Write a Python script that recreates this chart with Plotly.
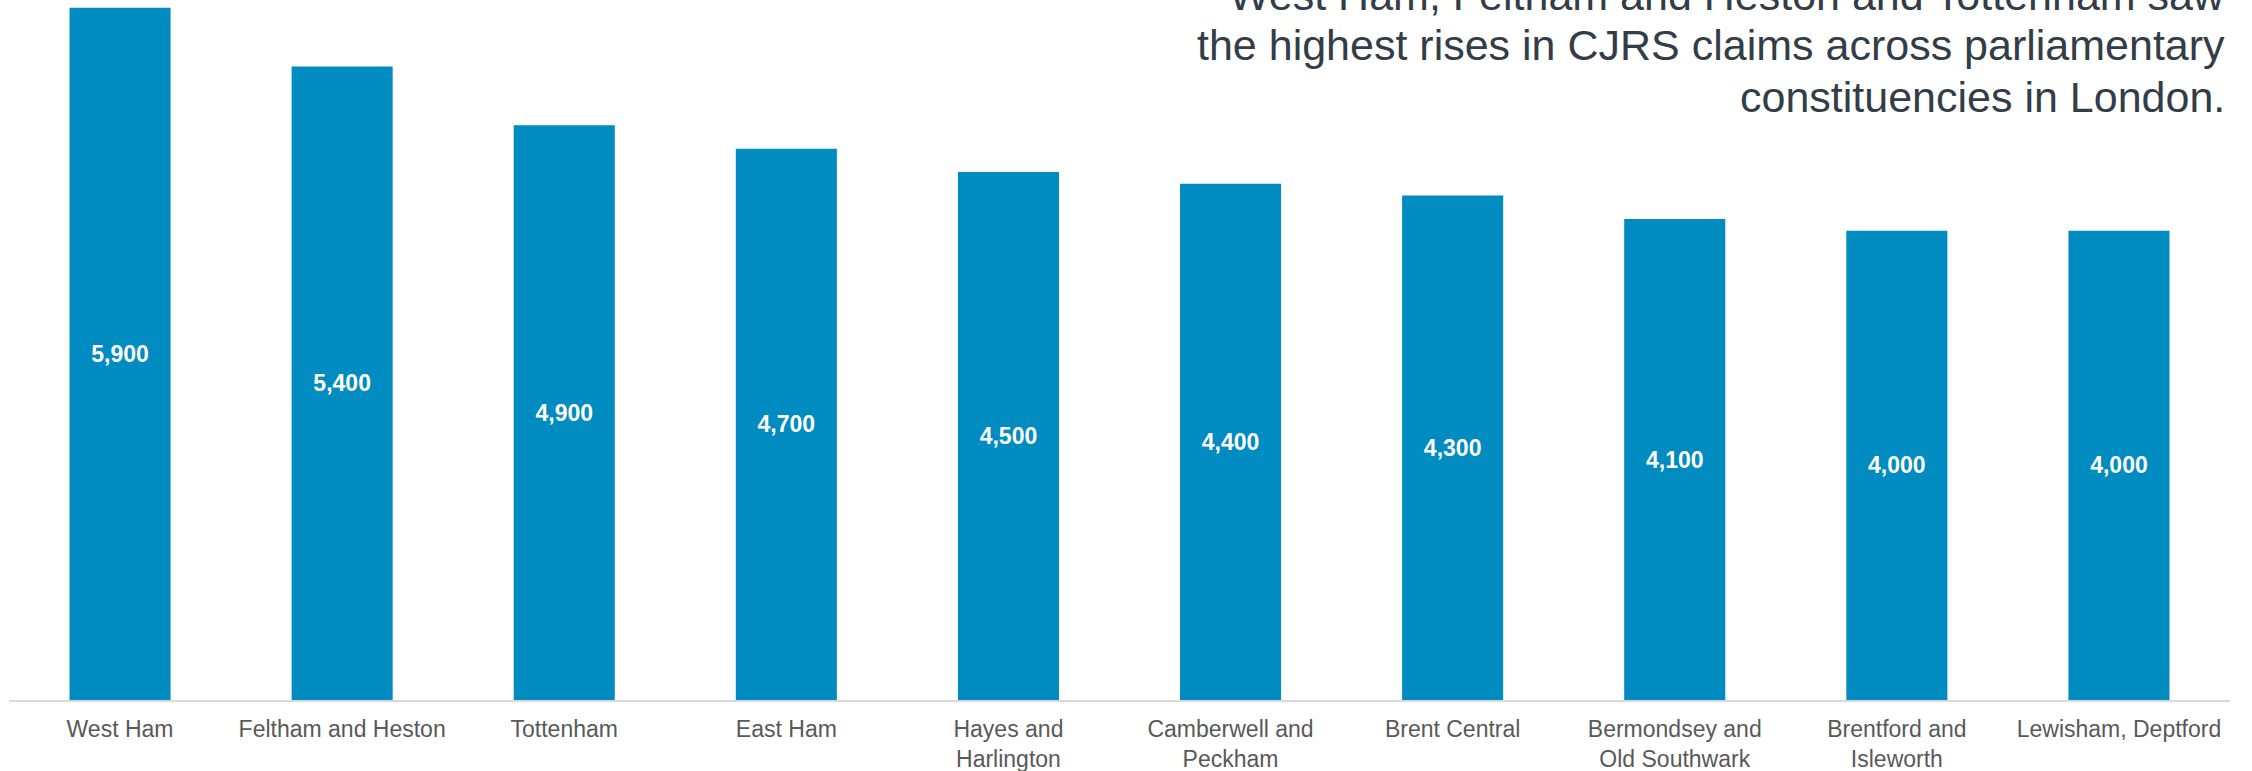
import plotly.graph_objects as go

categories = ["West Ham", "Feltham and Heston", "Tottenham", "East Ham",
              "Hayes and<br>Harlington", "Camberwell and<br>Peckham", "Brent Central",
              "Bermondsey and<br>Old Southwark", "Brentford and<br>Isleworth", "Lewisham, Deptford"]
claims_rise = [5900, 5400, 4900, 4700, 4500, 4400, 4300, 4100, 4000, 4000]
title_lines = ["West Ham, Feltham and Heston and Tottenham saw",
               "the highest rises in CJRS claims across parliamentary",
               "constituencies in London."]

FONT = "Liberation Sans, Arial, sans-serif"
PLOT_H = 700.0
title_bottoms_px = [21, 71, 123]

fig = go.Figure()
fig.add_trace(go.Bar(
    x=categories, y=claims_rise,
    marker=dict(color="#008BC1", line=dict(width=0)),
    texttemplate="%{y:,.0f}", textposition="inside", insidetextanchor="middle",
    textangle=0,
    textfont=dict(family=FONT, size=23, color="white", weight="bold"),
    hoverinfo="x+y",
))

annotations = []
for line, bottom in zip(title_lines, title_bottoms_px):
    annotations.append(dict(
        text=line, xref="paper", yref="paper",
        x=0.9986, y=1 - bottom / PLOT_H, xanchor="right", yanchor="bottom", align="right",
        showarrow=False, font=dict(family=FONT, size=43, color="#333D47"),
    ))

fig.update_layout(
    width=2252, height=771,
    margin=dict(l=9, r=22, t=0, b=71, autoexpand=False),
    paper_bgcolor="white", plot_bgcolor="white",
    bargap=0.545,
    showlegend=False,
    xaxis=dict(showline=True, linecolor="#D9D9D9", linewidth=2, showgrid=False,
               ticks="", tickfont=dict(family=FONT, size=23, color="#595959"),
               automargin=False, ticklabelstandoff=7, fixedrange=True),
    yaxis=dict(visible=False, range=[0, 5967], showgrid=False, zeroline=False,
               automargin=False, fixedrange=True),
    annotations=annotations,
)

fig.write_html(
    "out.html",
    config={"displayModeBar": False},
    post_script="document.body.style.margin='0';document.body.style.overflow='hidden';",
)
